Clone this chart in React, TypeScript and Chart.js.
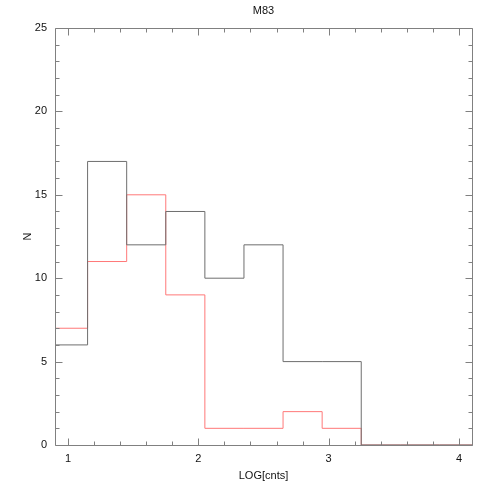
import React, { useEffect, useRef } from "react";
import { Chart, registerables } from "chart.js";

Chart.register(...registerables);

const binEdges = [0.85, 1.15, 1.45, 1.75, 2.05, 2.35, 2.65, 2.95, 3.25, 3.55, 3.85, 4.15];
const blackCounts = [6, 17, 12, 14, 10, 12, 5, 5, 0, 0, 0];
const redCounts = [7, 11, 15, 9, 1, 1, 2, 1, 0, 0, 0];
const xTickLabels = [1, 2, 3, 4];
const yTickLabels = [0, 5, 10, 15, 20, 25];
const titleText = "M83";
const xTitle = "LOG[cnts]";
const yTitle = "N";

const FONT = "'Liberation Sans', Arial, Helvetica, sans-serif";

function stepPoints(counts: number[]) {
  const pts = counts.map((c, i) => ({ x: binEdges[i], y: c }));
  pts.push({ x: binEdges[counts.length], y: counts[counts.length - 1] });
  return pts;
}

const framePlugin = {
  id: "idlFrame",
  afterDraw(chart: any) {
    const { ctx, chartArea } = chart;
    const xs = chart.scales.x;
    const ys = chart.scales.y;
    const L = Math.round(chartArea.left) + 0.5;
    const R = Math.round(chartArea.right) + 0.5;
    const T = Math.round(chartArea.top) + 0.5;
    const B = Math.round(chartArea.bottom) + 0.5;
    ctx.save();
    ctx.strokeStyle = "#808080";
    ctx.lineWidth = 1;
    ctx.beginPath();
    ctx.rect(L, T, R - L, B - T);
    for (let v = 1; v <= 4.0001; v += 0.2) {
      const major = Math.abs(v - Math.round(v)) < 1e-6;
      const len = major ? 7 : 4;
      const px = Math.round(xs.getPixelForValue(v)) + 0.5;
      ctx.moveTo(px, B);
      ctx.lineTo(px, B - len);
      ctx.moveTo(px, T);
      ctx.lineTo(px, T + len);
    }
    for (let v = 0; v <= 25; v += 1) {
      const major = v % 5 === 0;
      const len = major ? 7 : 4;
      const py = Math.round(ys.getPixelForValue(v)) + 0.5;
      ctx.moveTo(L, py);
      ctx.lineTo(L + len, py);
      ctx.moveTo(R, py);
      ctx.lineTo(R - len, py);
    }
    ctx.stroke();
    ctx.restore();
  },
};

export default function App() {
  const ref = useRef<HTMLCanvasElement>(null);
  useEffect(() => {
    if (!ref.current) return;
    const chart = new Chart(ref.current, {
      type: "line",
      data: {
        datasets: [
          {
            label: "black",
            data: stepPoints(blackCounts),
            stepped: "before",
            borderColor: "rgb(110,110,110)",
            borderWidth: 1,
            pointRadius: 0,
            fill: false,
          },
          {
            label: "red",
            data: stepPoints(redCounts),
            stepped: "before",
            borderColor: "rgb(255,120,120)",
            borderWidth: 1,
            pointRadius: 0,
            fill: false,
          },
        ],
      },
      options: {
        animation: false,
        responsive: false,
        devicePixelRatio: 1,
        layout: { padding: { left: 0, right: 26, top: 0, bottom: 0 } },
        plugins: {
          legend: { display: false },
          tooltip: { enabled: false },
          title: {
            display: true,
            fullSize: false,
            text: titleText,
            color: "#111",
            font: { family: FONT, size: 11, weight: "normal" },
            padding: { top: 4, bottom: 10.8 },
          },
        },
        scales: {
          x: {
            type: "linear",
            min: 0.9,
            max: 4.1,
            grid: { display: false, drawTicks: false, tickLength: 0 },
            border: { display: false },
            afterBuildTicks: (s: any) => {
              s.ticks = xTickLabels.map((v) => ({ value: v }));
            },
            afterFit: (s: any) => {
              s.height = 53;
            },
            ticks: {
              color: "#111",
              font: { family: FONT, size: 11 },
              padding: 7,
              maxRotation: 0,
              autoSkip: false,
              callback: (v: any) => String(v),
            },
            title: {
              display: true,
              text: xTitle,
              color: "#111",
              font: { family: FONT, size: 11 },
              padding: { top: 0, bottom: 15.4 },
            },
          },
          y: {
            type: "linear",
            min: 0,
            max: 25,
            grid: { display: false, drawTicks: false, tickLength: 0 },
            border: { display: false },
            afterBuildTicks: (s: any) => {
              s.ticks = yTickLabels.map((v) => ({ value: v }));
            },
            afterFit: (s: any) => {
              s.width = 55;
            },
            ticks: {
              color: "#111",
              font: { family: FONT, size: 11 },
              padding: 8,
              autoSkip: false,
              callback: (v: any) => String(v),
            },
            title: {
              display: true,
              text: yTitle,
              color: "#111",
              font: { family: FONT, size: 11 },
              padding: { top: 21.5, bottom: 0 },
            },
          },
        },
      },
      plugins: [framePlugin],
    });
    return () => chart.destroy();
  }, []);
  return (
    <div style={{ position: "absolute", left: 0, top: 0, width: 498, height: 498, background: "#fff" }}>
      <canvas ref={ref} width={498} height={498} />
    </div>
  );
}
